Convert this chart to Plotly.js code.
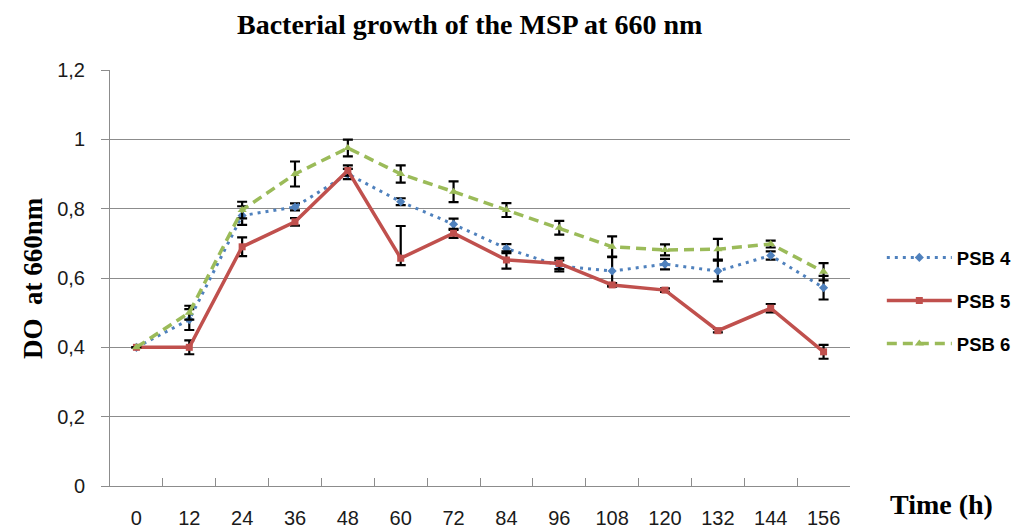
<!DOCTYPE html>
<html>
<head>
<meta charset="utf-8">
<script src="https://cdn.plot.ly/plotly-3.0.1.min.js"></script>
<style>html,body{margin:0;padding:0;background:#fff;}#chart{width:1015px;height:529px;}</style>
</head>
<body>
<div id="chart"></div>
<script>
var timeLabels = ['0','12','24','36','48','60','72','84','96','108','120','132','144','156'];
var psb4 = [0.40, 0.48, 0.78, 0.805, 0.90, 0.82, 0.755, 0.685, 0.635, 0.62, 0.64, 0.62, 0.665, 0.572];
var psb4Err = [0, 0.03, 0.027, 0.01, 0.015, 0.01, 0.016, 0.013, 0.016, 0.042, 0.015, 0.03, 0.012, 0.034];
var psb5 = [0.40, 0.40, 0.69, 0.762, 0.91, 0.657, 0.729, 0.652, 0.642, 0.58, 0.565, 0.448, 0.513, 0.387];
var psb5ErrPlus = [0, 0.02, 0.027, 0.011, 0.015, 0.093, 0.013, 0.025, 0.016, 0.005, 0.005, 0.005, 0.012, 0.02];
var psb5ErrMinus = [0, 0.02, 0.027, 0.011, 0.015, 0.02, 0.013, 0.025, 0.016, 0.005, 0.005, 0.005, 0.012, 0.02];
var psb6 = [0.40, 0.50, 0.796, 0.90, 0.975, 0.90, 0.849, 0.796, 0.745, 0.69, 0.681, 0.683, 0.698, 0.618];
var psb6Err = [0, 0.02, 0.024, 0.036, 0.024, 0.025, 0.03, 0.02, 0.02, 0.03, 0.016, 0.03, 0.01, 0.025];
var yTickVals = [0, 0.2, 0.4, 0.6, 0.8, 1, 1.2];
var yTickText = ['0', '0,2', '0,4', '0,6', '0,8', '1', '1,2'];

var errStyle = {color: '#000', thickness: 2.2, width: 5};

var traces = [
  {x: timeLabels, y: psb4, name: 'PSB 4', type: 'scatter', mode: 'lines+markers', legendgroup: 'a',
   line: {color: '#4F81BD', width: 3, dash: '3px,5px'},
   marker: {symbol: 'diamond', size: 7, color: '#4F81BD'},
   error_y: Object.assign({type: 'data', array: psb4Err, visible: true}, errStyle)},
  {x: timeLabels, y: psb5, name: 'PSB 5', type: 'scatter', mode: 'lines+markers', legendgroup: 'b',
   line: {color: '#C0504D', width: 3.5},
   marker: {symbol: 'square', size: 7, color: '#C0504D'},
   error_y: Object.assign({type: 'data', symmetric: false, array: psb5ErrPlus, arrayminus: psb5ErrMinus, visible: true}, errStyle)},
  {x: timeLabels, y: psb6, name: 'PSB 6', type: 'scatter', mode: 'lines+markers', legendgroup: 'c',
   line: {color: '#9BBB59', width: 3.5, dash: '10px,6px'},
   marker: {symbol: 'triangle-up', size: 8, color: '#9BBB59'},
   error_y: Object.assign({type: 'data', array: psb6Err, visible: true}, errStyle)}
];

var layout = {
  width: 1015, height: 529,
  margin: {l: 110, r: 165, t: 70, b: 43, autoexpand: false},
  paper_bgcolor: '#fff', plot_bgcolor: '#fff',
  font: {family: 'Liberation Sans, Arial, sans-serif', color: '#1a1a1a'},
  title: {text: '<b>Bacterial growth of the MSP at 660 nm</b>', x: 0.486, xanchor: 'center', xref: 'paper', y: 0.955, yanchor: 'middle',
    font: {family: 'Liberation Serif, serif', size: 28, color: '#000'}},
  showlegend: true,
  legend: {x: 1.043, xanchor: 'left', y: 0.445, yanchor: 'middle', itemwidth: 65, tracegroupgap: 16,
    font: {family: 'Liberation Sans, Arial, sans-serif', size: 18.5, color: '#000', weight: 'bold'},
    bgcolor: 'rgba(0,0,0,0)'},
  xaxis: {type: 'category', range: [-0.5, 13.5], tickson: 'boundaries', ticks: 'inside', ticklen: 8, tickcolor: '#8c8c8c', tickwidth: 1,
    showline: true, linecolor: '#8c8c8c', linewidth: 1, showgrid: false, zeroline: false,
    tickfont: {size: 20, color: '#1a1a1a'}, ticklabelstandoff: 14, fixedrange: true},
  yaxis: {range: [0, 1.2], tickvals: yTickVals, ticktext: yTickText, ticks: 'outside', ticklen: 8, tickcolor: '#8c8c8c',
    showline: true, linecolor: '#8c8c8c', linewidth: 1, showgrid: true, gridcolor: '#8c8c8c', gridwidth: 1, zeroline: false,
    tickfont: {size: 20, color: '#1a1a1a'}, ticklabelstandoff: 12, fixedrange: true},
  annotations: [
    {text: '<b>DO&nbsp; at 660nm</b>', xref: 'paper', yref: 'paper', x: -0.104, y: 0.5, xanchor: 'center', yanchor: 'middle',
     textangle: -90, showarrow: false, font: {family: 'Liberation Serif, serif', size: 27, color: '#000'}},
    {text: '<b>Time (h)</b>', xref: 'paper', yref: 'paper', x: 1.123, y: -0.045, xanchor: 'center', yanchor: 'middle',
     showarrow: false, font: {family: 'Liberation Serif, serif', size: 28, color: '#000'}}
  ]
};

Plotly.newPlot('chart', traces, layout, {displayModeBar: false, staticPlot: true});
</script>
</body>
</html>
